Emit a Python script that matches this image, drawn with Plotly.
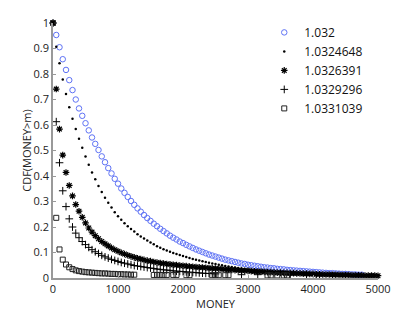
import plotly.graph_objects as go

# MONEY grid (bin positions, step 50)
money_grid = list(range(0, 5001, 50))

labels = ["1.032", "1.0324648", "1.0326391", "1.0329296", "1.0331039"]

# CDF values
cdf_1032 = [1.000, 0.953, 0.905, 0.858, 0.816, 0.776, 0.737, 0.700, 0.665, 0.636,
            0.607, 0.579, 0.551, 0.526, 0.502, 0.477, 0.454, 0.431, 0.410, 0.389,
            0.370, 0.351, 0.334, 0.318, 0.302, 0.287, 0.273, 0.260, 0.247, 0.235,
            0.224, 0.213, 0.203, 0.193, 0.184, 0.175, 0.166, 0.158, 0.151, 0.143,
            0.137, 0.130, 0.124, 0.118, 0.112, 0.107, 0.102, 0.097, 0.092, 0.088,
            0.084, 0.080, 0.076, 0.072, 0.069, 0.066, 0.063, 0.060, 0.057, 0.055,
            0.052, 0.050, 0.048, 0.046, 0.044, 0.042, 0.041, 0.039, 0.038, 0.036,
            0.035, 0.034, 0.032, 0.031, 0.030, 0.029, 0.028, 0.027, 0.026, 0.025,
            0.024, 0.023, 0.022, 0.021, 0.020, 0.019, 0.019, 0.018, 0.017, 0.016,
            0.016, 0.015, 0.014, 0.014, 0.013, 0.013]

cdf_10324648 = [1.000, 0.907, 0.842, 0.778, 0.722, 0.670, 0.625, 0.584, 0.546, 0.511,
                0.476, 0.444, 0.414, 0.387, 0.361, 0.337, 0.315, 0.295, 0.276, 0.258,
                0.242, 0.228, 0.215, 0.203, 0.192, 0.182, 0.172, 0.163, 0.155, 0.147,
                0.139, 0.132, 0.125, 0.119, 0.113, 0.108, 0.103, 0.098, 0.094, 0.090,
                0.086, 0.082, 0.078, 0.075, 0.072, 0.069, 0.066, 0.063, 0.060, 0.057,
                0.055, 0.052, 0.050, 0.047, 0.045, 0.043, 0.041, 0.039, 0.037, 0.035,
                0.033, 0.031, 0.030, 0.028, 0.027, 0.025, 0.024, 0.023, 0.022, 0.021,
                0.020, 0.019, 0.018, 0.017, 0.016, 0.015, 0.015, 0.014, 0.013, 0.013,
                0.012, 0.012, 0.011, 0.011, 0.010, 0.010, 0.009, 0.009, 0.009, 0.008,
                0.008, 0.008, 0.007, 0.007, 0.007, 0.007, 0.006, 0.006, 0.006, 0.006,
                0.006]

cdf_10326391 = [1.000, 0.741, 0.584, 0.482, 0.414, 0.363, 0.322, 0.288, 0.262, 0.238,
                0.216, 0.196, 0.180, 0.166, 0.154, 0.143, 0.134, 0.126, 0.118, 0.111,
                0.105, 0.099, 0.094, 0.089, 0.085, 0.081, 0.077, 0.074, 0.071, 0.068,
                0.066, 0.063, 0.061, 0.059, 0.057, 0.055, 0.054, 0.052, 0.051, 0.049,
                0.048, 0.047, 0.045, 0.044, 0.043, 0.042, 0.041, 0.040, 0.039, 0.038,
                0.037, 0.036, 0.035, 0.034, 0.033, 0.032, 0.031, 0.030, 0.029, 0.028,
                0.028, 0.027, 0.026, 0.025, 0.025, 0.024, 0.023, 0.023, 0.022, 0.021,
                0.021, 0.020, 0.020, 0.019, 0.019, 0.018, 0.018, 0.017, 0.017, 0.016,
                0.016, 0.015, 0.015, 0.014, 0.014, 0.014, 0.013, 0.013, 0.013, 0.012,
                0.012, 0.012, 0.011, 0.011, 0.011, 0.011, 0.010, 0.010, 0.010, 0.010,
                0.009]

cdf_10329296 = [1.000, 0.613, 0.452, 0.342, 0.280, 0.232, 0.200, 0.176, 0.158, 0.143,
                0.131, 0.120, 0.111, 0.103, 0.096, 0.089, 0.083, 0.078, 0.073, 0.069,
                0.065, 0.061, 0.058, 0.055, 0.052, 0.049, 0.047, 0.045, 0.043, 0.041,
                0.039, 0.037, 0.035, 0.034, 0.032, 0.031, 0.030, 0.028, 0.027, 0.026,
                0.025, 0.024, 0.023, 0.022, 0.021, 0.020, 0.019, 0.018, 0.018, 0.017,
                0.016]
tail_money_10329296 = [2900, 3150, 3650, 3900, 4050, 4100]
tail_cdf_10329296 = [0.013, 0.013, 0.012, 0.012, 0.011, 0.011]

cdf_10331039 = [1.000, 0.236, 0.112, 0.072, 0.053, 0.042, 0.035, 0.030, 0.027, 0.025,
                0.023, 0.022, 0.021, 0.020, 0.019, 0.018, 0.018, 0.017, 0.016, 0.016,
                0.015, 0.015, 0.014, 0.014, 0.013, 0.013]
tail_money_10331039 = [1550, 1600, 1650, 1700, 1750, 1850, 1900, 2050, 2100, 2450,
                       2500, 2550, 2650, 2700, 3300, 3350, 3450, 3550, 3600]
tail_cdf_10331039 = [0.012, 0.012, 0.012, 0.012, 0.012, 0.012, 0.012, 0.011, 0.011, 0.011,
                     0.011, 0.011, 0.011, 0.011, 0.010, 0.010, 0.010, 0.010, 0.010]

x_ticks = [0, 1000, 2000, 3000, 4000, 5000]
y_ticks = [0, 0.1, 0.2, 0.3, 0.4, 0.5, 0.6, 0.7, 0.8, 0.9, 1]

BLUE = "rgb(95,115,245)"
FONT = "Open Sans"

series = [
    (labels[0], money_grid[:len(cdf_1032)], cdf_1032,
     dict(symbol="circle-open", size=5.5, color=BLUE, line=dict(width=1, color=BLUE))),
    (labels[1], money_grid[:len(cdf_10324648)], cdf_10324648,
     dict(symbol="circle", size=2.5, color="black")),
    (labels[2], money_grid[:len(cdf_10326391)], cdf_10326391,
     dict(symbol="asterisk-open", size=5.5, color="black", line=dict(width=1.2, color="black"))),
    (labels[3], money_grid[:len(cdf_10329296)] + tail_money_10329296, cdf_10329296 + tail_cdf_10329296,
     dict(symbol="cross-thin-open", size=5.5, color="black", line=dict(width=1, color="black"))),
    (labels[4], money_grid[:len(cdf_10331039)] + tail_money_10331039, cdf_10331039 + tail_cdf_10331039,
     dict(symbol="square-open", size=5, color="#222", line=dict(width=1, color="#222"))),
]

fig = go.Figure()
for name, xs, ys, mk in series:
    fig.add_trace(go.Scatter(x=xs, y=ys, mode="markers", name=name, marker=mk,
                             cliponaxis=False))

# the page body adds an 8px margin, so the figure is 408x304 and sits at (8, 8)
fig.update_layout(
    width=408, height=304,
    margin=dict(l=45, r=38, t=15, b=34, autoexpand=False),
    paper_bgcolor="white", plot_bgcolor="white",
    font=dict(family=FONT, size=11, color="#222"),
    showlegend=True,
    legend=dict(x=0.65, y=1.02, xanchor="left", yanchor="top",
                font=dict(family=FONT, size=12, color="#111"),
                bgcolor="rgba(0,0,0,0)", borderwidth=0, tracegroupgap=0),
)
fig.update_xaxes(range=[0, 5000], tickvals=x_ticks, showgrid=False, zeroline=False,
                 showline=True, linecolor="#999", linewidth=1.5, automargin=False,
                 ticks="inside", ticklen=3, tickcolor="#999",
                 title=dict(text="MONEY", font=dict(size=11), standoff=1),
                 tickfont=dict(size=11))
fig.update_yaxes(range=[0, 1], tickvals=y_ticks, showgrid=False, zeroline=False,
                 showline=True, linecolor="#999", linewidth=1.5, automargin=False,
                 ticks="inside", ticklen=3, tickcolor="#999",
                 title=dict(text="CDF(MONEY>m)", font=dict(size=11), standoff=0),
                 tickfont=dict(size=11))

fig.write_html("out.html")
